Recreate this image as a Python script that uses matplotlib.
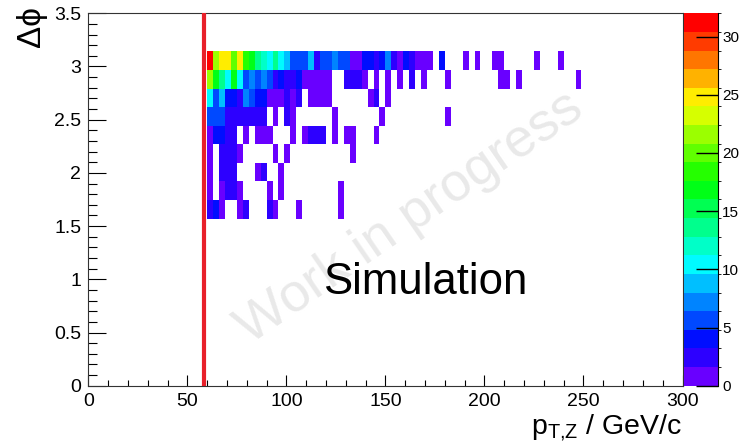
import numpy as np
import matplotlib
matplotlib.use("Agg")
import matplotlib.pyplot as plt
from matplotlib.colors import ListedColormap, BoundaryNorm, hsv_to_rgb

plt.rcParams['font.family'] = ['Liberation Sans', 'DejaVu Sans']
plt.rcParams['mathtext.fontset'] = 'custom'
plt.rcParams['mathtext.rm'] = 'Liberation Sans'
plt.rcParams['mathtext.it'] = 'Liberation Sans'

# ---- data -------------------------------------------------------------
# x bins: 3 GeV wide starting at 60 GeV ; y bins: pi/18 wide from pi/2 to pi
x_start = 60.0
x_width = 3.0
n_xbins = 64
y_edges = np.pi / 18 * np.arange(9, 19)

# counts per row, top row (near pi) first, columns = x bins starting at 60 GeV
row0 = [31, 21, 25, 24, 20, 25, 18, 17, 13, 12, 11, 13, 11, 8, 5, 5, 5, 8, 2, 5, 5, 7, 5, 5, 1, 1, 4, 4, 2, 4, 7, 2,
        1, 4, 2, 1, 1, 1, 0, 4, 0, 0, 0, 1, 0, 1, 0, 0, 1, 1, 0, 0, 0, 0, 0, 1, 0, 0, 0, 1, 0, 0, 0, 0]
row1 = [22, 17, 13, 11, 17, 11, 5, 7, 5, 7, 5, 2, 4, 2, 2, 4, 1, 1, 1, 1, 1, 0, 0, 2, 2, 2, 1, 0, 1, 0, 1, 0,
        1, 0, 2, 0, 1, 0, 0, 0, 1, 0, 0, 0, 0, 0, 0, 0, 0, 1, 1, 0, 1, 0, 0, 0, 0, 0, 0, 0, 0, 0, 1, 0]
row2 = [10, 5, 9, 4, 4, 3, 7, 5, 4, 4, 1, 1, 1, 2, 1, 3, 0, 1, 1, 1, 1, 0, 0, 0, 0, 0, 0, 1, 2, 0, 1, 0,
        0, 0, 0, 0, 0, 0, 0, 0, 0, 0, 0, 0, 0, 0, 0, 0, 0, 0, 0, 0, 0, 0, 0, 0, 0, 0, 0, 0, 0, 0, 0, 0]
row3 = [6, 6, 6, 3, 3, 2, 3, 2, 3, 3, 0, 1, 0, 3, 1, 0, 0, 0, 0, 0, 0, 1, 0, 0, 0, 0, 0, 0, 0, 1, 0, 0,
        0, 0, 0, 0, 0, 0, 0, 0, 1, 0, 0, 0, 0, 0, 0, 0, 0, 0, 0, 0, 0, 0, 0, 0, 0, 0, 0, 0, 0, 0, 0, 0]
row4 = [1, 4, 4, 2, 2, 0, 1, 0, 1, 1, 1, 0, 0, 0, 1, 0, 1, 3, 2, 3, 0, 1, 0, 1, 1, 0, 0, 0, 1, 0, 0, 0,
        0, 0, 0, 0, 0, 0, 0, 0, 0, 0, 0, 0, 0, 0, 0, 0, 0, 0, 0, 0, 0, 0, 0, 0, 0, 0, 0, 0, 0, 0, 0, 0]
row5 = [1, 0, 2, 2, 2, 1, 0, 0, 0, 0, 0, 1, 0, 1, 0, 0, 0, 0, 0, 0, 0, 0, 0, 0, 1, 0, 0, 0, 0, 0, 0, 0,
        0, 0, 0, 0, 0, 0, 0, 0, 0, 0, 0, 0, 0, 0, 0, 0, 0, 0, 0, 0, 0, 0, 0, 0, 0, 0, 0, 0, 0, 0, 0, 0]
row6 = [1, 0, 2, 2, 3, 0, 0, 0, 1, 3, 0, 0, 1, 0, 0, 0, 0, 0, 0, 0, 0, 0, 0, 0, 0, 0, 0, 0, 0, 0, 0, 0,
        0, 0, 0, 0, 0, 0, 0, 0, 0, 0, 0, 0, 0, 0, 0, 0, 0, 0, 0, 0, 0, 0, 0, 0, 0, 0, 0, 0, 0, 0, 0, 0]
row7 = [1, 0, 1, 3, 3, 1, 0, 0, 0, 0, 1, 0, 1, 0, 0, 0, 0, 0, 0, 0, 0, 0, 1, 0, 0, 0, 0, 0, 0, 0, 0, 0,
        0, 0, 0, 0, 0, 0, 0, 0, 0, 0, 0, 0, 0, 0, 0, 0, 0, 0, 0, 0, 0, 0, 0, 0, 0, 0, 0, 0, 0, 0, 0, 0]
row8 = [2, 4, 1, 0, 0, 1, 2, 0, 0, 0, 3, 1, 0, 0, 0, 1, 0, 0, 0, 0, 0, 0, 1, 0, 0, 0, 0, 0, 0, 0, 0, 0,
        0, 0, 0, 0, 0, 0, 0, 0, 0, 0, 0, 0, 0, 0, 0, 0, 0, 0, 0, 0, 0, 0, 0, 0, 0, 0, 0, 0, 0, 0, 0, 0]
rows_top_to_bottom = [row0, row1, row2, row3, row4, row5, row6, row7, row8]

cut_x = 58.6          # red vertical line
z_max = 32.0
z_ticks = [0, 5, 10, 15, 20, 25, 30]
x_ticks = [0, 50, 100, 150, 200, 250, 300]
y_ticks = [0, 0.5, 1, 1.5, 2, 2.5, 3, 3.5]
y_tick_labels = ["0", "0.5", "1", "1.5", "2", "2.5", "3", "3.5"]

# ---- figure -------------------------------------------------------------
W, H = 741, 445
fig = plt.figure(figsize=(W / 100, H / 100), dpi=100)
ax_l, ax_r, ax_t, ax_b = 88.3, 682.5, 13.3, 385.7
ax = fig.add_axes([ax_l / W, 1 - ax_b / H, (ax_r - ax_l) / W, (ax_b - ax_t) / H])

# ROOT-like rainbow palette, 20 levels
n_lev = 20
hues = 0.735 * (n_lev - 1 - np.arange(n_lev)) / (n_lev - 1)
cols = hsv_to_rgb(np.stack([hues, np.ones(n_lev), np.ones(n_lev)], axis=1))
cmap = ListedColormap(cols)
bounds = np.linspace(0, z_max, n_lev + 1)
norm = BoundaryNorm(bounds, n_lev)

x_edges = x_start + x_width * np.arange(n_xbins + 1)
Z = np.array(rows_top_to_bottom[::-1], dtype=float)
Zm = np.ma.masked_where(Z <= 0, Z)

# watermark
fig.text(410 / W, 1 - 218 / H, "Work in progress", rotation=34.5, fontsize=39,
         color="#e9e9e9", ha="center", va="center", zorder=0.5)

ax.set_facecolor("none")
mesh = ax.pcolormesh(x_edges, y_edges, Zm, cmap=cmap, norm=norm, zorder=2)
ax.axvline(cut_x, color="#e8202a", lw=3.0, zorder=3)

ax.set_xlim(0, 300)
ax.set_ylim(0, 3.5)
ax.set_xticks(x_ticks)
ax.set_xticklabels([str(v) for v in x_ticks])
ax.set_yticks(y_ticks)
ax.set_yticklabels(y_tick_labels)
ax.set_xticks(np.arange(0, 301, 10), minor=True)
ax.set_yticks(np.arange(0, 3.51, 0.1), minor=True)
ax.tick_params(axis="x", which="major", direction="in", length=8, width=0.8, labelsize=14, pad=5)
ax.tick_params(axis="x", which="minor", direction="in", length=4, width=0.8)
ax.tick_params(axis="y", which="major", direction="in", length=12.8, width=0.8, labelsize=14, pad=5)
ax.tick_params(axis="y", which="minor", direction="in", length=6.4, width=0.8)
for s in ax.spines.values():
    s.set_linewidth(0.8)
    s.set_color("#333333")

fig.text(682 / W, 1 - 434 / H, r"$\mathregular{p_{T{,}Z}}$ / GeV/c", fontsize=20.5,
         ha="right", va="baseline")
fig.text(31 / W, 1 - 6 / H, "Δ\u03d5", fontsize=24, rotation=90, ha="center", va="top",
         family=['Liberation Sans', 'DejaVu Sans'])

fig.text(425 / W, 1 - 282 / H, "Simulation", fontsize=31.5, ha="center", va="center",
         color="black", zorder=5)

# colorbar
cax = fig.add_axes([684 / W, 1 - ax_b / H, 34 / W, (ax_b - ax_t) / H])
cb = fig.colorbar(mesh, cax=cax, boundaries=bounds, ticks=z_ticks)
cb.outline.set_visible(False)
cax.spines["right"].set_visible(True)
cax.tick_params(direction="in", length=16, width=1, labelsize=11, pad=3, color="black")

fig.savefig("out.png", dpi=100)
